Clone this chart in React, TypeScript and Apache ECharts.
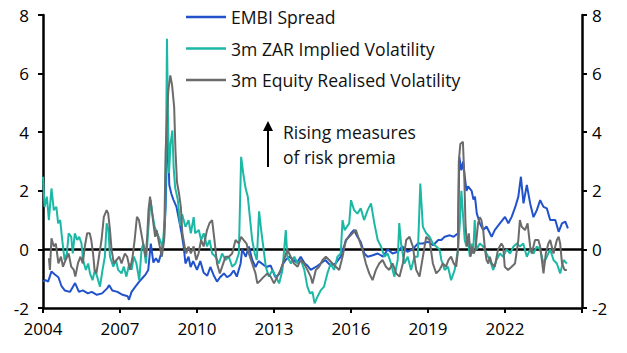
import React, { useEffect, useRef } from "react";
import * as echarts from "echarts";

// [decimal year, value]
const embiSpread: [number, number][] = [
  [2004.0, -1.1], [2004.1, -1.05], [2004.2, -1.1], [2004.33, -0.75], [2004.45, -0.85], [2004.6, -0.95],
  [2004.72, -1.25], [2004.85, -1.4], [2005.05, -1.45], [2005.25, -1.15], [2005.4, -1.45], [2005.55, -1.4],
  [2005.75, -1.5], [2005.9, -1.45], [2006.1, -1.55], [2006.3, -1.5], [2006.5, -1.33], [2006.58, -1.22],
  [2006.7, -1.4], [2006.9, -1.45], [2007.1, -1.55], [2007.3, -1.6], [2007.35, -1.72], [2007.45, -1.45],
  [2007.6, -1.27], [2007.75, -1.1], [2007.9, -0.95], [2008.0, -0.85], [2008.1, -0.7], [2008.2, 0.2],
  [2008.3, -0.45], [2008.4, -0.3], [2008.5, -0.45], [2008.6, -0.15], [2008.72, 0.4], [2008.78, 1.5],
  [2008.85, 4.4], [2008.92, 2.2], [2009.0, 1.9], [2009.08, 1.7], [2009.2, 1.45], [2009.3, 1.0],
  [2009.4, 0.55], [2009.48, 0.1], [2009.55, -0.48], [2009.67, -0.25], [2009.75, -0.6], [2009.85, -0.4],
  [2010.0, -0.7], [2010.13, -0.4], [2010.26, -0.8], [2010.4, -0.9], [2010.52, -0.6], [2010.65, -0.88],
  [2010.78, -1.1], [2010.9, -0.95], [2011.05, -0.82], [2011.17, -0.95], [2011.3, -0.88], [2011.43, -0.72],
  [2011.55, -0.93], [2011.7, -0.48], [2011.76, 0.0], [2011.9, -0.25], [2012.02, 0.1], [2012.15, -0.35],
  [2012.28, -0.6], [2012.4, -0.4], [2012.55, -0.5], [2012.7, -0.6], [2012.87, -0.55], [2013.05, -0.95],
  [2013.2, -0.85], [2013.35, -0.5], [2013.46, -0.35], [2013.6, -0.25], [2013.75, -0.35], [2013.9, -0.45],
  [2014.04, -0.25], [2014.2, -0.48], [2014.3, -0.55], [2014.43, -0.7], [2014.63, -0.6], [2014.82, -0.48],
  [2015.0, -0.36], [2015.2, -0.55], [2015.4, -0.48], [2015.6, -0.25], [2015.8, 0.3], [2016.0, 0.55],
  [2016.12, 0.66], [2016.25, 0.43], [2016.38, 0.25], [2016.52, -0.14], [2016.65, -0.25], [2016.85, -0.2],
  [2017.04, -0.14], [2017.25, -0.25], [2017.43, 0.0], [2017.62, -0.14], [2017.82, -0.08], [2018.0, 0.1],
  [2018.2, -0.08], [2018.4, 0.0], [2018.6, 0.2], [2018.8, 0.2], [2019.0, 0.26], [2019.2, 0.14],
  [2019.4, 0.32], [2019.52, 0.32], [2019.65, 0.43], [2019.85, 0.48], [2020.0, 0.43], [2020.17, 0.55],
  [2020.22, 3.16], [2020.3, 2.7], [2020.37, 3.0], [2020.43, 2.5], [2020.5, 2.0], [2020.56, 2.15],
  [2020.7, 2.0], [2020.77, 1.7], [2020.83, 1.8], [2020.9, 1.23], [2021.02, 0.89], [2021.15, 0.66],
  [2021.28, 0.78], [2021.48, 0.43], [2021.6, 0.66], [2021.8, 0.89], [2022.0, 1.11], [2022.13, 0.89],
  [2022.26, 1.11], [2022.4, 1.45], [2022.52, 1.8], [2022.62, 2.48], [2022.72, 1.57], [2022.85, 2.2],
  [2022.98, 1.57], [2023.11, 1.1], [2023.24, 1.34], [2023.37, 1.68], [2023.5, 1.45], [2023.63, 1.4],
  [2023.76, 1.0], [2023.96, 1.0], [2024.09, 0.6], [2024.22, 0.89], [2024.35, 0.95], [2024.45, 0.72],
];

const zarImpliedVol: [number, number][] = [
  [2004.0, 2.48], [2004.06, 1.45], [2004.15, 1.8], [2004.23, 1.0], [2004.33, 2.08], [2004.42, 1.34],
  [2004.52, 1.45], [2004.59, 0.89], [2004.67, 1.0], [2004.75, 0.32], [2004.84, -0.36], [2004.93, -0.14],
  [2005.0, 0.55], [2005.1, 0.43], [2005.16, -0.14], [2005.24, 0.55], [2005.33, 0.32], [2005.41, 0.43],
  [2005.5, 0.2], [2005.56, -0.36], [2005.67, -0.7], [2005.76, -0.48], [2005.83, -0.82], [2005.93, -1.05],
  [2006.02, -0.7], [2006.11, -0.93], [2006.22, -1.27], [2006.32, -0.7], [2006.41, -0.25], [2006.48, 0.89],
  [2006.55, 0.66], [2006.61, -0.25], [2006.74, -0.59], [2006.84, -0.36], [2006.93, -0.7], [2007.06, -0.82],
  [2007.15, -0.59], [2007.25, -0.93], [2007.36, -0.48], [2007.45, -0.7], [2007.54, -0.25], [2007.64, -0.48],
  [2007.75, -1.05], [2007.84, 0.0], [2007.91, 0.2], [2008.01, -0.48], [2008.1, 0.66], [2008.19, 1.68],
  [2008.26, 1.22], [2008.35, 0.77], [2008.45, 0.55], [2008.56, 0.32], [2008.66, 0.1], [2008.76, 1.2],
  [2008.8, 4.0], [2008.83, 7.19], [2008.87, 4.5], [2008.91, 2.6], [2008.97, 3.6], [2009.04, 4.06],
  [2009.09, 2.8], [2009.15, 2.1], [2009.25, 1.7], [2009.35, 0.8], [2009.42, 1.2], [2009.55, 0.77],
  [2009.67, 1.0], [2009.76, 0.55], [2009.87, 1.1], [2009.93, 0.55], [2010.07, 0.66], [2010.16, 0.32],
  [2010.26, 0.55], [2010.39, 0.1], [2010.49, 0.32], [2010.59, -0.14], [2010.72, -0.25], [2010.85, -0.48],
  [2010.98, -0.14], [2011.11, -0.36], [2011.24, -0.25], [2011.37, -0.59], [2011.5, -0.48], [2011.63, -0.14],
  [2011.72, 3.16], [2011.8, 2.6], [2011.89, 2.1], [2011.98, 1.8], [2012.06, 1.1], [2012.15, 0.32],
  [2012.25, -0.14], [2012.33, -0.36], [2012.42, 1.3], [2012.5, 0.66], [2012.58, 0.1], [2012.68, -0.59],
  [2012.8, -0.93], [2012.94, -0.7], [2013.07, -0.93], [2013.2, -1.16], [2013.33, -0.7], [2013.46, 0.66],
  [2013.52, -0.25], [2013.66, -0.48], [2013.79, -0.25], [2013.92, -0.48], [2014.05, -0.36], [2014.18, -0.7],
  [2014.3, -1.27], [2014.4, -1.5], [2014.5, -1.45], [2014.58, -1.84], [2014.7, -1.6], [2014.82, -1.4],
  [2014.95, -1.27], [2015.08, -0.82], [2015.21, -0.48], [2015.34, -0.7], [2015.47, -0.25], [2015.6, -0.14],
  [2015.67, 1.0], [2015.75, 0.66], [2015.93, 0.89], [2016.0, 1.68], [2016.12, 1.34], [2016.25, 1.22],
  [2016.38, 1.4], [2016.51, 1.0], [2016.65, 1.34], [2016.78, 1.57], [2016.91, 0.89], [2017.04, 0.32],
  [2017.17, 0.1], [2017.3, -0.25], [2017.43, -0.14], [2017.56, -0.48], [2017.69, -0.93], [2017.82, -0.36],
  [2017.88, 0.9], [2017.95, 0.2], [2018.08, -0.48], [2018.21, -0.25], [2018.34, -0.7], [2018.47, -0.25],
  [2018.6, -0.25], [2018.7, 2.25], [2018.8, 0.77], [2018.93, 0.55], [2019.06, 0.43], [2019.19, 0.2],
  [2019.32, 0.1], [2019.45, 0.0], [2019.52, -0.36], [2019.65, -0.7], [2019.78, -0.59], [2019.9, -1.05],
  [2020.04, -0.7], [2020.17, 0.0], [2020.24, 0.89], [2020.3, 2.0], [2020.37, 1.1], [2020.43, 0.32],
  [2020.5, 0.1], [2020.56, 0.32], [2020.63, -0.25], [2020.7, 0.2], [2020.76, -0.14], [2020.82, 1.0],
  [2020.89, 0.0], [2021.02, 0.2], [2021.15, 0.1], [2021.28, -0.14], [2021.41, -0.36], [2021.54, -0.7],
  [2021.67, -0.36], [2021.8, -0.14], [2021.93, -0.25], [2022.06, 0.0], [2022.2, -0.14], [2022.33, 0.1],
  [2022.46, 0.2], [2022.58, 0.1], [2022.71, 0.2], [2022.85, -0.25], [2022.98, 0.0], [2023.11, -0.14],
  [2023.24, 0.1], [2023.37, 0.0], [2023.5, -0.48], [2023.63, -0.25], [2023.76, 0.0], [2023.89, -0.36],
  [2024.02, -0.48], [2024.15, -0.82], [2024.28, -0.36], [2024.41, -0.48],
];

const equityRealisedVol: [number, number][] = [
  [2004.23, -0.3], [2004.27, -0.7], [2004.33, 0.38], [2004.42, 0.1], [2004.5, 0.2], [2004.6, -0.48],
  [2004.7, -0.25], [2004.78, -0.59], [2004.88, -0.36], [2005.0, -0.14], [2005.1, -0.59], [2005.2, -0.7],
  [2005.26, -0.93], [2005.36, -0.48], [2005.46, -0.25], [2005.55, -0.48], [2005.63, 0.1], [2005.72, 0.55],
  [2005.82, 0.55], [2005.88, 0.32], [2005.95, -0.14], [2006.01, -0.7], [2006.08, -0.82], [2006.18, -0.25],
  [2006.28, 0.32], [2006.37, 1.11], [2006.48, 1.34], [2006.54, 1.22], [2006.61, 0.66], [2006.67, 0.0],
  [2006.76, -0.48], [2006.87, -0.36], [2006.97, -0.25], [2007.06, -0.48], [2007.19, -0.14], [2007.28, -0.25],
  [2007.39, -0.7], [2007.49, -0.25], [2007.57, 0.32], [2007.66, 1.11], [2007.74, 1.0], [2007.83, 0.55],
  [2007.9, 0.2], [2008.0, -0.25], [2008.06, 0.43], [2008.11, 1.34], [2008.17, 1.8], [2008.24, 1.34],
  [2008.3, 0.89], [2008.37, 0.43], [2008.43, 0.66], [2008.5, 0.32], [2008.63, -0.25], [2008.72, 0.32],
  [2008.78, 3.4], [2008.88, 5.4], [2008.96, 5.94], [2009.03, 5.6], [2009.11, 4.86], [2009.16, 3.4],
  [2009.22, 2.3], [2009.3, 1.9], [2009.37, 1.45], [2009.43, 0.55], [2009.52, 0.1], [2009.58, -0.14],
  [2009.67, 0.1], [2009.76, -0.14], [2009.87, 0.1], [2009.97, -0.36], [2010.06, -0.14], [2010.16, 0.32],
  [2010.26, 0.1], [2010.39, 0.66], [2010.49, 0.9], [2010.59, 1.0], [2010.68, 0.32], [2010.78, -0.48],
  [2010.89, -0.82], [2010.98, -0.59], [2011.11, -0.25], [2011.24, -0.25], [2011.37, -0.14], [2011.5, 0.32],
  [2011.63, 0.2], [2011.72, 0.43], [2011.82, 0.32], [2011.93, 0.2], [2012.02, -0.14], [2012.15, -0.48],
  [2012.28, -0.82], [2012.35, -1.16], [2012.48, -1.05], [2012.61, -0.93], [2012.74, -0.82], [2012.87, -0.93],
  [2013.0, -1.16], [2013.13, -0.93], [2013.26, -0.7], [2013.39, -0.36], [2013.52, 0.0], [2013.65, -0.25],
  [2013.78, -0.48], [2013.92, -0.59], [2014.04, -0.36], [2014.17, -0.48], [2014.3, -0.7], [2014.43, -0.93],
  [2014.5, -1.16], [2014.63, -0.7], [2014.76, -0.59], [2014.89, -0.36], [2015.02, -0.25], [2015.15, -0.36],
  [2015.28, -0.48], [2015.41, -0.59], [2015.54, -0.7], [2015.67, -0.25], [2015.8, 0.32], [2015.93, 0.43],
  [2016.06, 0.55], [2016.19, 0.66], [2016.32, 0.32], [2016.45, -0.02], [2016.58, -0.48], [2016.71, -0.82],
  [2016.84, -1.05], [2016.97, -0.7], [2017.1, -0.48], [2017.23, -0.36], [2017.36, -0.59], [2017.49, -0.7],
  [2017.62, -0.48], [2017.76, -0.82], [2017.89, -0.93], [2018.02, -0.48], [2018.15, 0.32], [2018.28, 0.43],
  [2018.41, 0.1], [2018.54, -0.7], [2018.67, -0.93], [2018.8, -0.25], [2018.93, 0.43], [2019.06, 0.32],
  [2019.19, -0.48], [2019.32, -0.82], [2019.45, -0.7], [2019.58, -0.48], [2019.7, -0.59], [2019.8, -0.36],
  [2019.9, -0.25], [2020.0, -0.48], [2020.1, -0.59], [2020.17, 0.0], [2020.2, 3.0], [2020.26, 3.6],
  [2020.36, 3.67], [2020.41, 2.6], [2020.46, 0.89], [2020.52, 0.1], [2020.59, 0.55], [2020.66, -0.25],
  [2020.72, 0.1], [2020.78, -0.14], [2020.85, 0.0], [2020.95, 0.89], [2021.02, 1.1], [2021.08, 1.0],
  [2021.15, 0.66], [2021.22, 0.0], [2021.28, -0.36], [2021.35, -0.48], [2021.41, -0.25], [2021.48, -0.48],
  [2021.6, -0.59], [2021.73, 0.0], [2021.86, 0.2], [2021.93, 0.1], [2021.99, -0.59], [2022.12, -0.7],
  [2022.26, -0.59], [2022.39, -0.48], [2022.52, 0.32], [2022.58, 1.0], [2022.65, 0.77], [2022.78, 0.66],
  [2022.88, 0.89], [2022.98, 0.1], [2023.04, -0.14], [2023.17, 0.32], [2023.3, 0.32], [2023.37, 0.1],
  [2023.5, -0.82], [2023.59, -0.14], [2023.69, 0.2], [2023.76, 0.32], [2023.89, -0.14], [2024.02, 0.32],
  [2024.09, 0.43], [2024.15, 0.2], [2024.22, -0.48], [2024.32, -0.7], [2024.41, -0.7],
];

const seriesNames = ["EMBI Spread", "3m ZAR Implied Volatility", "3m Equity Realised Volatility"];
const annotationLines = ["Rising measures", "of risk premia"];

const FONT = "'Open Sans', sans-serif";
const COLORS = ["#2152cc", "#1cb8a6", "#6b6b6b"];

export default function App() {
  const ref = useRef<HTMLDivElement>(null);
  useEffect(() => {
    if (!ref.current) return;
    const chart = echarts.init(ref.current, undefined, { renderer: "svg" });
    const datasets = [embiSpread, zarImpliedVol, equityRealisedVol];
    const axisCommon = {
      min: -2,
      max: 8,
      interval: 2,
      axisLine: { show: true, lineStyle: { color: "#000", width: 2.5 } },
      axisTick: { show: true, length: 5, lineStyle: { color: "#000", width: 2 } },
      splitLine: { show: false },
      axisLabel: { color: "#000", fontSize: 17, fontFamily: FONT },
    };
    chart.setOption({
      animation: false,
      grid: { left: 43, right: 45, top: 15, bottom: 45, containLabel: false },
      legend: {
        orient: "vertical",
        left: 186,
        top: 7,
        padding: 0,
        itemWidth: 40,
        itemHeight: 2.5,
        itemGap: 11.5,
        icon: "rect",
        data: seriesNames,
        textStyle: { color: "#111", fontSize: 17.6, fontFamily: FONT, lineHeight: 20 },
        selectedMode: false,
      },
      xAxis: {
        type: "value",
        min: 2004,
        max: 2025,
        interval: 3,
        axisLine: { show: true, onZero: false, lineStyle: { color: "#000", width: 2.5 } },
        axisTick: { show: true, length: 5, lineStyle: { color: "#000", width: 2 } },
        splitLine: { show: false },
        axisLabel: {
          color: "#000",
          fontSize: 17,
          fontFamily: FONT,
          margin: 12,
          formatter: (v: number) => (v >= 2025 ? "" : String(v)),
        },
      },
      yAxis: [
        { type: "value", position: "left", ...axisCommon, axisLabel: { ...axisCommon.axisLabel, margin: 14 } },
        { type: "value", position: "right", ...axisCommon, axisLabel: { ...axisCommon.axisLabel, margin: 10 } },
      ],
      series: datasets.map((d, i) => ({
        name: seriesNames[i],
        type: "line",
        data: d,
        showSymbol: false,
        symbol: "none",
        yAxisIndex: 0,
        lineStyle: { color: COLORS[i], width: 2 },
        itemStyle: { color: COLORS[i] },
        z: 2 + i,
        markLine:
          i === 0
            ? {
                silent: true,
                symbol: "none",
                label: { show: false },
                lineStyle: { color: "#000", width: 2.5, type: "solid" },
                data: [{ yAxis: 0 }],
                z: 1,
              }
            : undefined,
      })),
      graphic: [
        { type: "line", shape: { x1: 268, y1: 167, x2: 268, y2: 128 }, style: { stroke: "#000", lineWidth: 2 } },
        { type: "polygon", shape: { points: [[268, 121], [263, 131], [273, 131]] }, style: { fill: "#000" } },
        {
          type: "text",
          left: 283,
          top: 123,
          style: { text: annotationLines[0], font: `17.5px ${FONT}`, fill: "#111" },
        },
        {
          type: "text",
          left: 283,
          top: 148,
          style: { text: annotationLines[1], font: `17.5px ${FONT}`, fill: "#111" },
        },
      ],
    });
    return () => chart.dispose();
  }, []);
  return <div ref={ref} style={{ width: 627, height: 353, margin: -8 }} />;
}
